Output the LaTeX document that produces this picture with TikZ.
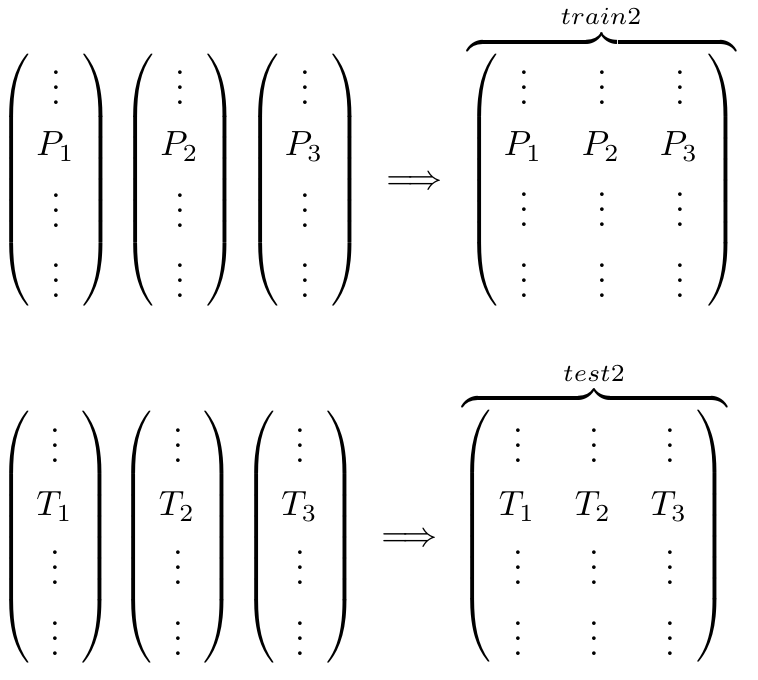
\documentclass[tikz,border=0pt]{standalone}
\usepackage{amsmath}
\newcommand{\mydots}{\vbox{\baselineskip=4.29pt\lineskiplimit=-10pt\hbox{.}\hbox{.}\hbox{.}}}
\newcommand{\mylp}{$\delimitershortfall=0pt\delimiterfactor=1000\nulldelimiterspace=0pt\left(\vcenter{\hbox{\rule{0pt}{71pt}}}\right.$}
\newcommand{\myrp}{$\delimitershortfall=0pt\delimiterfactor=1000\nulldelimiterspace=0pt\left.\vcenter{\hbox{\rule{0pt}{71pt}}}\right)$}
\newcommand{\mybrace}[1]{\hbox to #1{\downbracefill}}
\begin{document}
\begin{tikzpicture}[x=0.28571pt,y=-0.28571pt,
  dv/.style={inner sep=0pt,anchor=base},
  tx/.style={inner sep=0pt,anchor=base},
  par/.style={inner sep=0pt,anchor=center},
  brc/.style={inner sep=0pt,anchor=center}]
\useasboundingbox (0,0) rectangle (758,680);
% ---------- top row: P columns ----------
\foreach \c/\x in {1/56.5,2/180.5,3/305}{
  \node[dv] (tpa\c) at (\x,105) {\mydots};
  \node[dv] (tpb\c) at (\x,228) {\mydots};
  \node[dv] (tpc\c) at (\x,298) {\mydots};
  \node[tx] (tp\c) at (\x-1,156) {$P_{\c}$};
  \node[par] (tl\c) at (\x-41.5,180) {\mylp};
  \node[par] (tr\c) at (\x+41.5,180) {\myrp};
}
\node[tx] (tarr) at (414.5,189.75) {$\Longrightarrow$};
% big top matrix
\foreach \c/\x in {1/524,2/602,3/680}{
  \node[dv] (tma\c) at (\x,105) {\mydots};
  \node[dv] (tmb\c) at (\x,227) {\mydots};
  \node[dv] (tmc\c) at (\x,298) {\mydots};
  \node[tx] (tm\c) at (\x-1,156) {$P_{\c}$};
}
\node[par] (tml) at (482.5,180.5) {\mylp};
\node[par] (tmr) at (722.5,180.5) {\myrp};
\node[brc] (tbrace) at (602,42) {\mybrace{77pt}};
\node[tx] (tlab) at (601,24.5) {$\scriptstyle train2$};
% ---------- bottom row: T columns ----------
\foreach \c/\x in {1/55.5,2/178,3/300.5}{
  \node[dv] (bpa\c) at (\x,463) {\mydots};
  \node[dv] (bpb\c) at (\x,585) {\mydots};
  \node[dv] (bpc\c) at (\x,656) {\mydots};
  \node[tx] (bp\c) at (\x-1,516) {$T_{\c}$};
  \node[par] (bl\c) at (\x-41,537.5) {\mylp};
  \node[par] (br\c) at (\x+41,537.5) {\myrp};
}
\node[tx] (barr) at (409.5,546.75) {$\Longrightarrow$};
% big bottom matrix
\foreach \c/\x in {1/518,2/594,3/670}{
  \node[dv] (bma\c) at (\x,463) {\mydots};
  \node[dv] (bmb\c) at (\x,585) {\mydots};
  \node[dv] (bmc\c) at (\x,656) {\mydots};
  \node[tx] (bm\c) at (\x-1,516) {$T_{\c}$};
}
\node[par] (bml) at (476,536.5) {\mylp};
\node[par] (bmr) at (711.5,536.5) {\myrp};
\node[brc] (bbrace) at (594.5,398) {\mybrace{75.7pt}};
\node[tx] (blab) at (594,381.5) {$\scriptstyle test2$};
\end{tikzpicture}
\end{document}
